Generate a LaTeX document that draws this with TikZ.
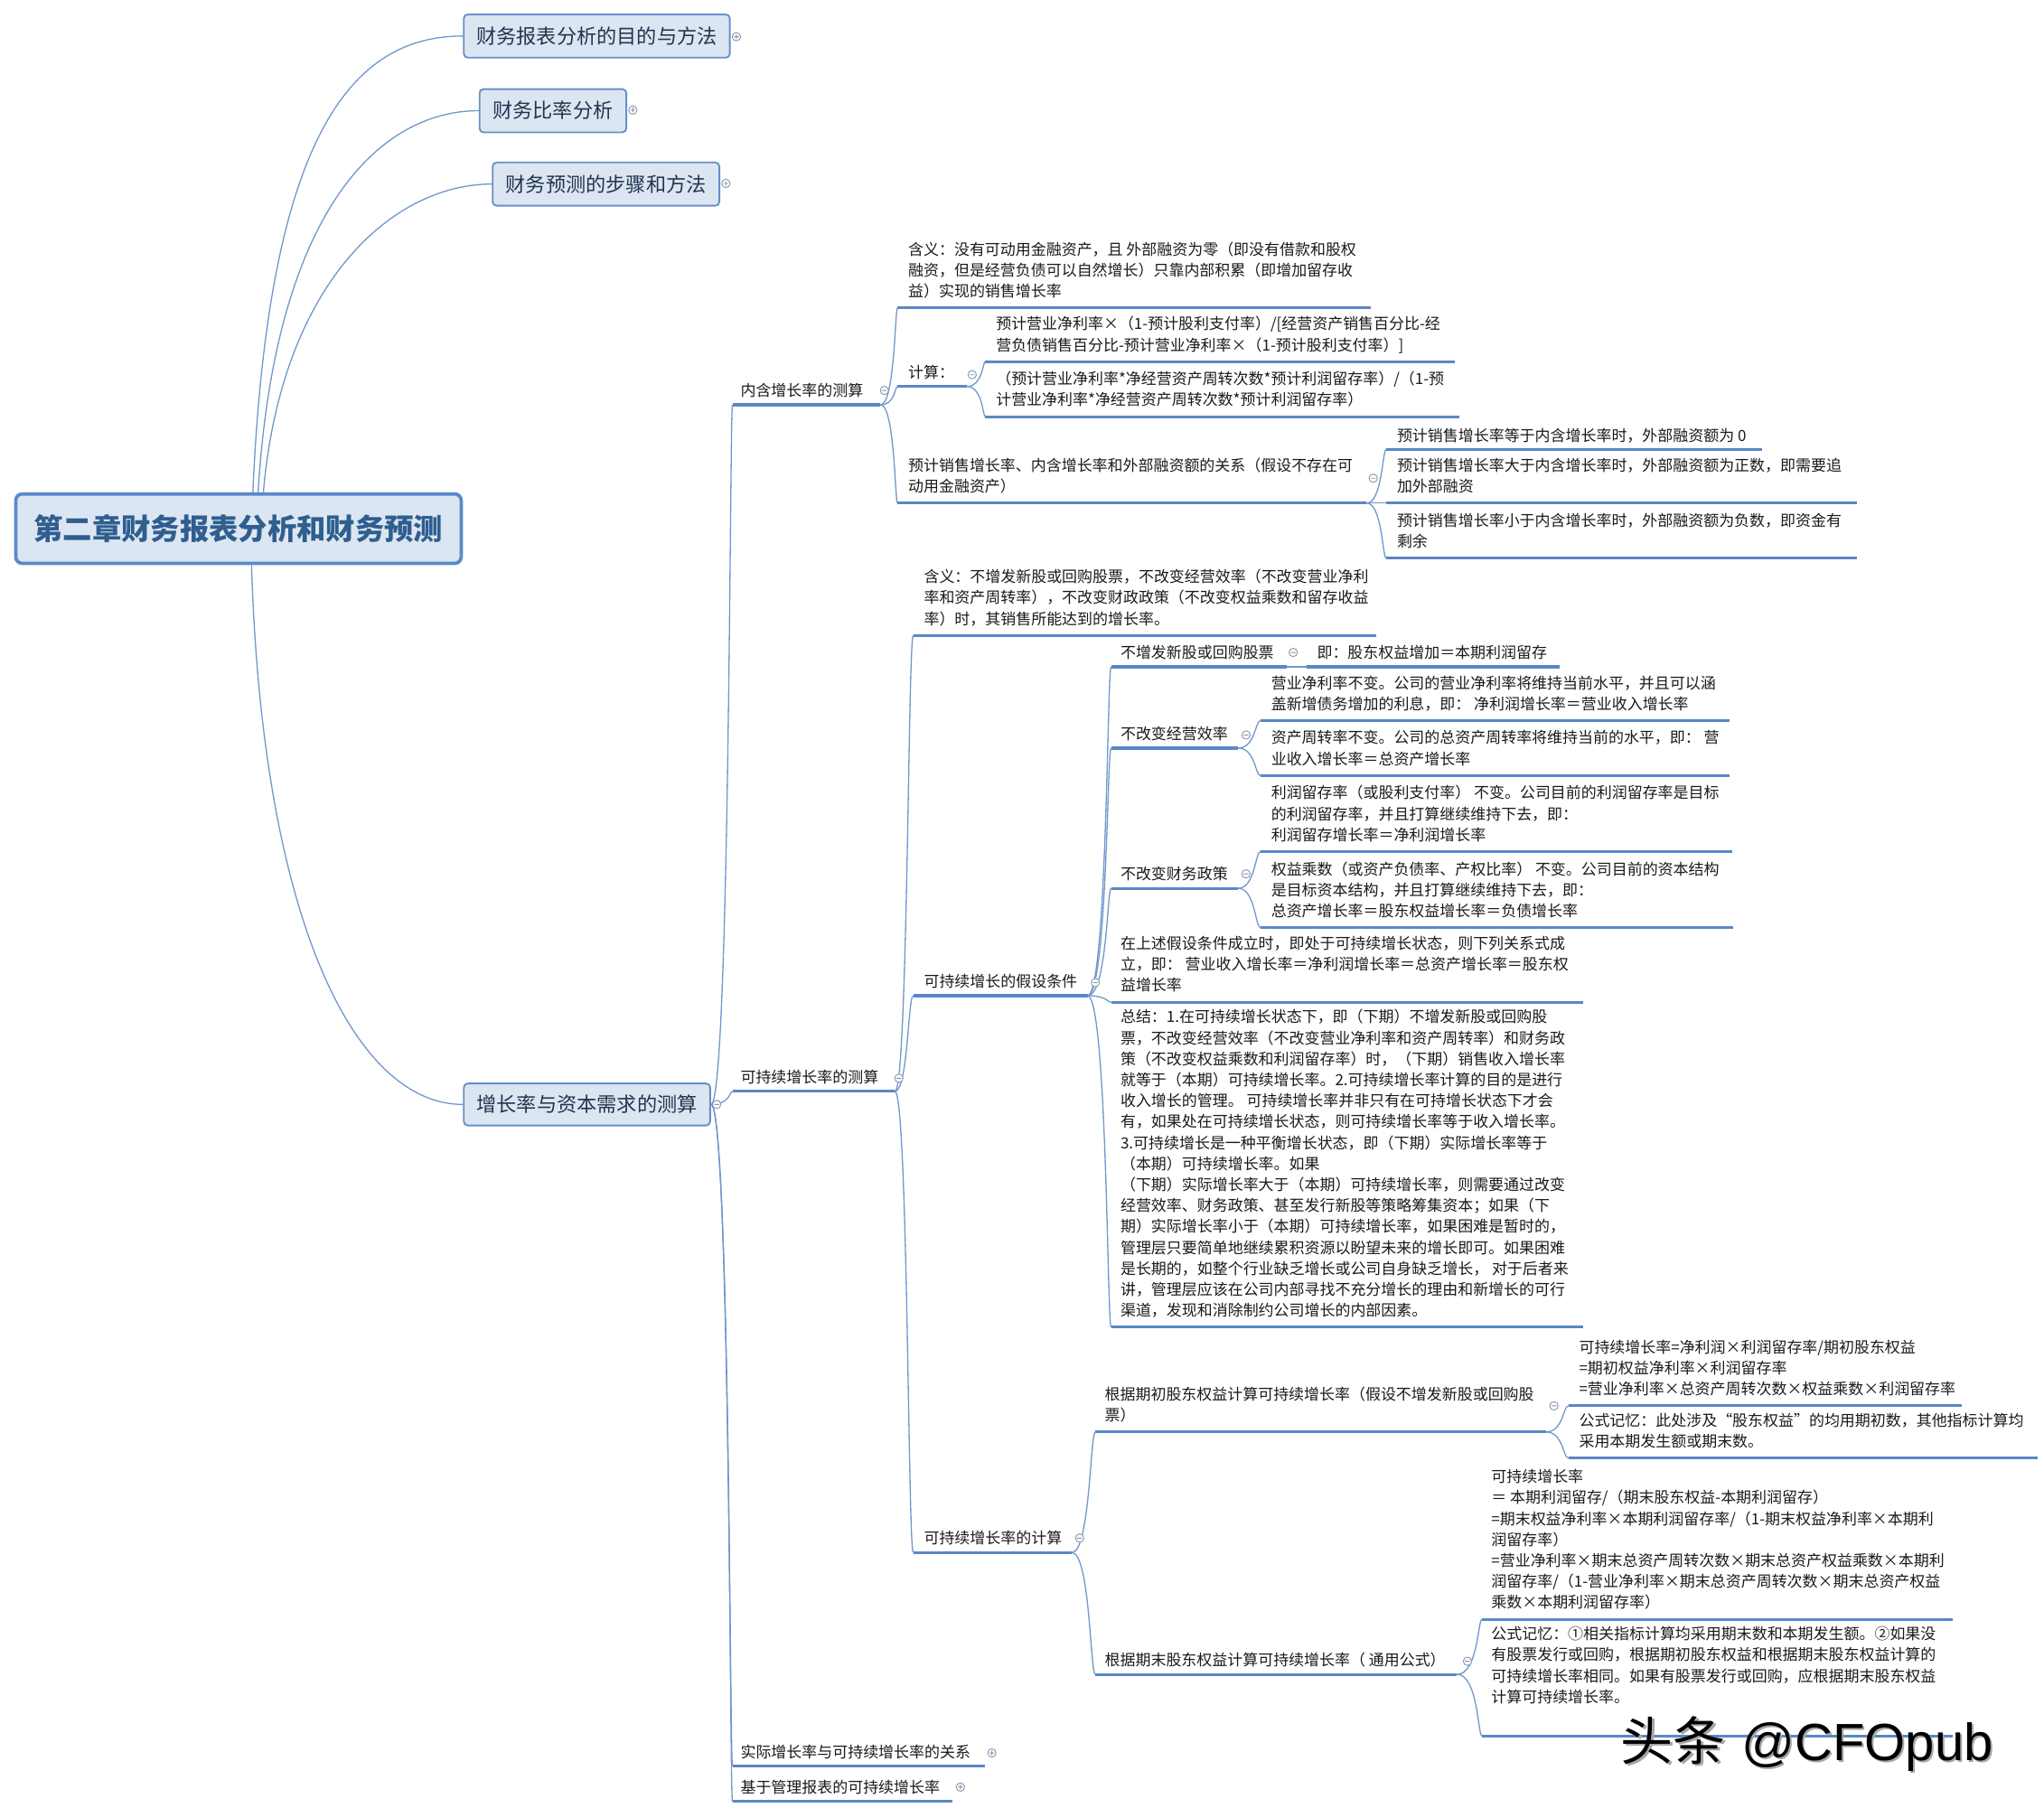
\documentclass[tikz,border=0pt]{standalone}
\usepackage{fontspec}
\newfontfamily\cjk{Noto Sans CJK SC}
\newfontfamily\wmlat{Liberation Sans}
\usetikzlibrary{calc}
\definecolor{conncol}{HTML}{7098CC}
\definecolor{ulcol}{HTML}{5B87C4}
\definecolor{boxfill}{HTML}{DCE6F2}
\definecolor{boxline}{HTML}{6690C8}
\definecolor{rootline}{HTML}{5A8ACA}
\definecolor{boxtext}{HTML}{22344F}
\definecolor{roottext}{HTML}{2F5E8F}
\definecolor{mkcol}{HTML}{8393AA}
\definecolor{txtcol}{HTML}{1A1A1A}
\newcommand\topic[7]{%
  \coordinate (#1-s) at (#2,#4);
  \coordinate (#1-e) at (#3,#4);
  \draw[uline] (#1-s) -- (#1-e);
  \node[txt] (#1) at (#5,#6) {#7};}
\newcommand\cnx[5]{\draw[conn] (#1) .. controls (#3,#4) and (#3,#5) .. (#2);}
\newcommand\mkminus[2]{\draw[mkst] (#1,#2) circle[radius=3.2pt] (#1-1.8,#2) -- (#1+1.8,#2);}
\newcommand\mkplus[2]{\draw[mkst] (#1,#2) circle[radius=3.2pt] (#1-1.8,#2) -- (#1+1.8,#2) (#1,#2-1.8) -- (#1,#2+1.8);}
\begin{document}
\begin{tikzpicture}[x=1pt,y=-1pt,
  txt/.style={anchor=north west, yshift=7.6pt, inner sep=0pt, align=left, text=txtcol,
    font=\cjk\fontsize{11.7}{16}\selectfont, execute at begin node={\rule{0pt}{12pt}}},
  uline/.style={draw=ulcol, line width=2.2pt},
  conn/.style={draw=conncol, line width=0.9pt},
  mkst/.style={draw=mkcol, line width=0.6pt, fill=white},
  box/.style={draw=boxline, fill=boxfill, rounded corners=3pt, line width=1.3pt, inner sep=0pt,
    text=boxtext, font=\cjk\fontsize{15.3}{18}\selectfont, minimum height=33pt},
  rootbox/.style={draw=rootline, fill=boxfill, rounded corners=5pt, line width=2.6pt, inner sep=0pt,
    text=roottext, font=\cjk\bfseries\fontsize{22.3}{26}\selectfont, minimum width=340pt, minimum height=53pt}]
\useasboundingbox (0,0) rectangle (1560,1380);
\fill[white] (0,0) rectangle (1560,1380);

% ---- boxes
\node[rootbox] (root) at (182,403.5) {第二章财务报表分析和财务预测};
\node[box, minimum width=203pt] (b1) at (455.5,27.5) {财务报表分析的目的与方法};
\node[box, minimum width=112pt] (b2) at (422,84.5) {财务比率分析};
\node[box, minimum width=173pt] (b3) at (462.5,140.5) {财务预测的步骤和方法};
\node[box, minimum width=188pt, minimum height=32pt] (b4) at (448,843) {增长率与资本需求的测算};

% ---- topics
\topic{nh}{559}{672}{309}{565}{298}{内含增长率的测算}
\topic{kc}{559}{683}{833}{565}{822}{可持续增长率的测算}
\topic{sj}{559}{752}{1348}{565}{1337}{实际增长率与可持续增长率的关系}
\topic{jy}{559}{727}{1375}{565}{1364}{基于管理报表的可持续增长率}

\topic{nhA}{685}{1046}{235}{693}{192}{含义：没有可动用金融资产，且 外部融资为零（即没有借款和股权\\融资，但是经营负债可以自然增长）只靠内部积累（即增加留存收\\益）实现的销售增长率}
\topic{js}{685}{738}{295}{693}{284}{计算：}
\topic{gx}{685}{1043}{384}{693}{357}{预计销售增长率、内含增长率和外部融资额的关系（假设不存在可\\动用金融资产）}
\topic{jsA}{752}{1110}{276}{760}{249}{预计营业净利率×（1-预计股利支付率）/[经营资产销售百分比-经\\营负债销售百分比-预计营业净利率×（1-预计股利支付率）]}
\topic{jsB}{752}{1114}{318}{760}{291}{（预计营业净利率*净经营资产周转次数*预计利润留存率）/（1-预\\计营业净利率*净经营资产周转次数*预计利润留存率）}
\topic{gxA}{1058}{1345}{343}{1066}{332}{预计销售增长率等于内含增长率时，外部融资额为 0}
\topic{gxB}{1058}{1417}{384}{1066}{357}{预计销售增长率大于内含增长率时，外部融资额为正数，即需要追\\加外部融资}
\topic{gxC}{1058}{1417}{426}{1066}{399}{预计销售增长率小于内含增长率时，外部融资额为负数，即资金有\\剩余}

\topic{kcA}{697}{1050}{485}{705}{442}{含义：不增发新股或回购股票，不改变经营效率（不改变营业净利\\率和资产周转率），不改变财政政策（不改变权益乘数和留存收益\\率）时，其销售所能达到的增长率。}
\topic{jd}{697}{830}{760}{705}{749}{可持续增长的假设条件}
\topic{kj}{697}{818}{1185}{705}{1174}{可持续增长率的计算}

\topic{bz}{848}{982}{509}{855}{498}{不增发新股或回购股票}
\topic{bzA}{997}{1190}{509}{1005}{498}{即：股东权益增加＝本期利润留存}
\topic{jx}{848}{945}{571}{855}{560}{不改变经营效率}
\topic{jxA}{962}{1320}{550}{970}{523}{营业净利率不变。公司的营业净利率将维持当前水平，并且可以涵\\盖新增债务增加的利息，即： 净利润增长率＝营业收入增长率}
\topic{jxB}{962}{1320}{592}{970}{565}{资产周转率不变。公司的总资产周转率将维持当前的水平，即： 营\\业收入增长率＝总资产增长率}
\topic{cw}{848}{945}{678}{855}{667}{不改变财务政策}
\topic{cwA}{962}{1322}{650}{970}{607}{利润留存率（或股利支付率） 不变。公司目前的利润留存率是目标\\的利润留存率，并且打算继续维持下去，即：\\利润留存增长率＝净利润增长率}
\topic{cwB}{962}{1323}{708}{970}{665}{权益乘数（或资产负债率、产权比率） 不变。公司目前的资本结构\\是目标资本结构，并且打算继续维持下去，即：\\总资产增长率＝股东权益增长率＝负债增长率}
\topic{zs}{848}{1208}{765}{855}{722}{在上述假设条件成立时，即处于可持续增长状态，则下列关系式成\\立，即： 营业收入增长率＝净利润增长率＝总资产增长率＝股东权\\益增长率}
\topic{zj}{848}{1208}{1013}{855}{778}{总结：1.在可持续增长状态下，即（下期）不增发新股或回购股\\票，不改变经营效率（不改变营业净利率和资产周转率）和财务政\\策（不改变权益乘数和利润留存率）时，（下期）销售收入增长率\\就等于（本期）可持续增长率。2.可持续增长率计算的目的是进行\\收入增长的管理。 可持续增长率并非只有在可持增长状态下才会\\有，如果处在可持续增长状态，则可持续增长率等于收入增长率。\\3.可持续增长是一种平衡增长状态，即（下期）实际增长率等于\\（本期）可持续增长率。如果\\（下期）实际增长率大于（本期）可持续增长率，则需要通过改变\\经营效率、财务政策、甚至发行新股等策略筹集资本；如果（下\\期）实际增长率小于（本期）可持续增长率，如果困难是暂时的，\\管理层只要简单地继续累积资源以盼望未来的增长即可。如果困难\\是长期的，如整个行业缺乏增长或公司自身缺乏增长， 对于后者来\\讲，管理层应该在公司内部寻找不充分增长的理由和新增长的可行\\渠道，发现和消除制约公司增长的内部因素。}

\topic{qc}{836}{1180}{1093}{843}{1066}{根据期初股东权益计算可持续增长率（假设不增发新股或回购股\\票）}
\topic{qm}{836}{1112}{1278}{843}{1267}{根据期末股东权益计算可持续增长率（ 通用公式）}
\topic{qcA}{1197}{1497}{1073}{1205}{1030}{可持续增长率=净利润×利润留存率/期初股东权益\\=期初权益净利率×利润留存率\\=营业净利率×总资产周转次数×权益乘数×利润留存率}
\topic{qcB}{1197}{1555}{1113}{1205}{1086}{公式记忆：此处涉及“股东权益”的均用期初数，其他指标计算均\\采用本期发生额或期末数。}
\topic{qmA}{1131}{1490}{1236}{1138}{1129}{可持续增长率\\＝ 本期利润留存/（期末股东权益-本期利润留存）\\=期末权益净利率×本期利润留存率/（1-期末权益净利率×本期利\\润留存率）\\=营业净利率×期末总资产周转次数×期末总资产权益乘数×本期利\\润留存率/（1-营业净利率×期末总资产周转次数×期末总资产权益\\乘数×本期利润留存率）}
\topic{qmB}{1131}{1490}{1325}{1138}{1249}{公式记忆：①相关指标计算均采用期末数和本期发生额。②如果没\\有股票发行或回购，根据期初股东权益和根据期末股东权益计算的\\可持续增长率相同。如果有股票发行或回购，应根据期末股东权益\\计算可持续增长率。}

% ---- connectors from root
\draw[conn] ([xshift=11pt]root.north) .. controls (205,100) and (270,27.5) .. (b1.west);
\draw[conn] ([xshift=15pt]root.north) .. controls (210,160) and (290,84.5) .. (b2.west);
\draw[conn] ([xshift=19pt]root.north) .. controls (215,215) and (300,140.5) .. (b3.west);
\draw[conn] ([xshift=10pt]root.south) .. controls (200,700) and (270,843) .. (b4.west);

% ---- tree connectors
\cnx{b4.east}{nh-s}{557}{843}{309}
\cnx{b4.east}{kc-s}{557}{843}{833}
\cnx{b4.east}{sj-s}{557}{843}{1348}
\cnx{b4.east}{jy-s}{557}{843}{1375}

\cnx{nh-e}{nhA-s}{683}{309}{235}
\cnx{nh-e}{js-s}{683}{309}{295}
\cnx{nh-e}{gx-s}{683}{309}{384}
\cnx{js-e}{jsA-s}{750}{295}{276}
\cnx{js-e}{jsB-s}{750}{295}{318}
\cnx{gx-e}{gxA-s}{1055}{384}{343}
\cnx{gx-e}{gxB-s}{1055}{384}{384}
\cnx{gx-e}{gxC-s}{1055}{384}{426}

\cnx{kc-e}{kcA-s}{693}{833}{485}
\cnx{kc-e}{jd-s}{693}{833}{760}
\cnx{kc-e}{kj-s}{693}{833}{1185}

\cnx{jd-e}{bz-s}{845}{760}{509}
\cnx{jd-e}{jx-s}{845}{760}{571}
\cnx{jd-e}{cw-s}{845}{760}{678}
\cnx{jd-e}{zs-s}{845}{760}{765}
\cnx{jd-e}{zj-s}{845}{760}{1013}
\draw[conn] (bz-e) -- (bzA-s);
\cnx{jx-e}{jxA-s}{958}{571}{550}
\cnx{jx-e}{jxB-s}{958}{571}{592}
\cnx{cw-e}{cwA-s}{958}{678}{650}
\cnx{cw-e}{cwB-s}{958}{678}{708}

\cnx{kj-e}{qc-s}{832}{1185}{1093}
\cnx{kj-e}{qm-s}{832}{1185}{1278}
\cnx{qc-e}{qcA-s}{1193}{1093}{1073}
\cnx{qc-e}{qcB-s}{1193}{1093}{1113}
\cnx{qm-e}{qmA-s}{1128}{1278}{1236}
\cnx{qm-e}{qmB-s}{1128}{1278}{1325}

% ---- markers
\mkplus{562}{28}
\mkplus{483}{84}
\mkplus{554}{140}
\mkminus{547}{843}
\mkminus{675}{298}
\mkminus{742}{286}
\mkminus{1048}{365}
\mkminus{686}{823}
\mkminus{836}{750}
\mkminus{987}{498}
\mkminus{951}{561}
\mkminus{951}{667}
\mkminus{824}{1174}
\mkminus{1186}{1073}
\mkminus{1120}{1268}
\mkplus{757}{1338}
\mkplus{733}{1364}

% ---- watermark
\node[anchor=base west, inner sep=0pt, text=black!35, font=\fontsize{40}{44}\selectfont] (wmsh) at (1238.5,1345.5) {{\cjk 头条} {\wmlat @CFOpub}};
\node[anchor=base west, inner sep=0pt, text=black, font=\fontsize{40}{44}\selectfont] (wm) at (1237,1344) {{\cjk 头条} {\wmlat @CFOpub}};
\end{tikzpicture}
\end{document}
